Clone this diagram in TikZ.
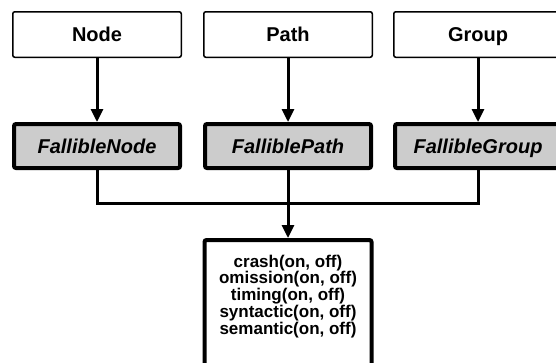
\documentclass[tikz,border=0pt]{standalone}
\usepackage{fontspec}
\setmainfont{Liberation Sans}
\usetikzlibrary{arrows.meta}

\begin{document}
\begin{tikzpicture}[x=1pt,y=1pt]
	\tikzset{plain/.style={draw=black, line width=1.5pt, rounded corners=2pt, minimum width=168.5pt, minimum height=45.5pt, inner sep=0pt, text height=14pt, text depth=0pt, font=\fontsize{20}{24}\selectfont\bfseries},
	fallible/.style={plain, line width=4pt, fill=gray!40, minimum width=166pt, minimum height=44pt, font=\fontsize{20}{24}\selectfont\bfseries\itshape},
	faultbox/.style={draw=black, line width=4pt, rounded corners=2pt, anchor=north, minimum width=167pt, align=center, inner xsep=0pt, inner ysep=20pt, text height=74.5pt, text depth=50pt, font=\fontsize{17}{15.5}\selectfont\bfseries},
	conn/.style={line width=3pt, -{Triangle[length=13pt,width=12pt]}}}
	\useasboundingbox (0,0) rectangle (556,-362);

	\node[plain] (node) at (97,-34.5) {Node};
	\node[plain] (path) at (288,-34.5) {Path};
	\node[plain] (group) at (478,-34.5) {Group};

	\node[fallible] (fnode) at (97,-146) {FallibleNode};
	\node[fallible] (fpath) at (288,-146) {FalliblePath};
	\node[fallible] (fgroup) at (478,-146) {FallibleGroup};

	\node[faultbox] (faults) at (288,-238) {crash(on, off)\\omission(on, off)\\timing(on, off)\\syntactic(on, off)\\semantic(on, off)};

	\foreach \a/\b in {node/fnode,path/fpath,group/fgroup}{
		\draw[conn] (\a) -- (\b);
	}

	\coordinate (join) at (288,-203);
	\draw[line width=3pt] (fnode) |- (join) -| (fgroup);
	\draw[conn] (fpath) -- (faults);

\end{tikzpicture}
\end{document}
